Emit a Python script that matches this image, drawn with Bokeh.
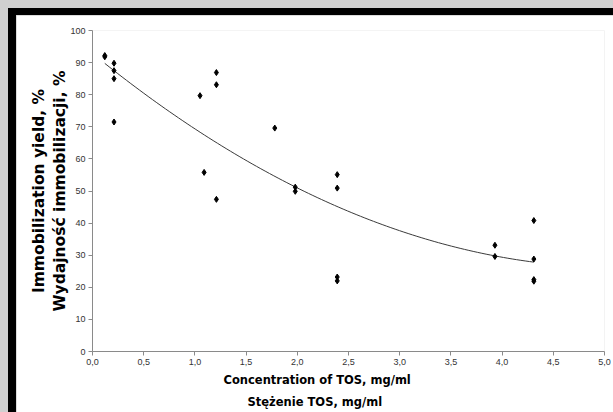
import numpy as np
from bokeh.plotting import figure
from bokeh.models import (ColumnDataSource, FixedTicker, LinearAxis, Div, Title,
                          GlobalInlineStyleSheet)
from bokeh.layouts import row, column
from bokeh.embed import file_html
from bokeh.resources import INLINE

# ---- data ----
tos_conc = [0.12, 0.12, 0.21, 0.21, 0.21, 0.21,
            1.05, 1.09, 1.21, 1.21, 1.21,
            1.78, 1.98, 1.98,
            2.39, 2.39, 2.39, 2.39,
            3.93, 3.93,
            4.31, 4.31, 4.31, 4.31]
immob_yield = [92.2, 91.8, 89.8, 87.5, 85.0, 71.5,
               79.7, 55.8, 86.9, 83.1, 47.4,
               69.6, 51.2, 49.9,
               55.1, 50.9, 23.2, 22.0,
               33.1, 29.6,
               40.8, 28.8, 22.4, 21.9]
x_ticks = [0.0, 0.5, 1.0, 1.5, 2.0, 2.5, 3.0, 3.5, 4.0, 4.5, 5.0]
x_tick_labels = ["0,0", "0,5", "1,0", "1,5", "2,0", "2,5", "3,0", "3,5", "4,0", "4,5", "5,0"]
y_ticks = [0, 10, 20, 30, 40, 50, 60, 70, 80, 90, 100]
x_title_1 = "Concentration of TOS, mg/ml"
x_title_2 = "Stężenie TOS, mg/ml"
y_title_1 = "Immobilization yield, %"
y_title_2 = "Wydajność immobilizacji, %"

# polynomial (order 2) trendline, as in the original chart
coef = np.polyfit(tos_conc, immob_yield, 2)
trend_x = np.linspace(min(tos_conc), max(tos_conc), 100)
trend_y = np.polyval(coef, trend_x)

pts = ColumnDataSource(dict(x=tos_conc, y=immob_yield))
trend = ColumnDataSource(dict(x=trend_x, y=trend_y))

p = figure(width=597, height=397, x_range=(0, 5), y_range=(0, 100),
           output_backend="svg", toolbar_location=None,
           min_border_left=76, min_border_right=9,
           min_border_top=15, min_border_bottom=60)
p.background_fill_color = "white"
p.border_fill_color = "white"
p.outline_line_color = None
p.grid.visible = False

p.line("x", "y", source=trend, line_color="#3a3a3a", line_width=1)
p.scatter("x", "y", source=pts, marker="diamond", size=6,
          fill_color="black", line_color="black")

tick_font = "Liberation Sans"
title_font = "DejaVu Sans"
y_title_size = "15.5px"
x_title_size = "11.5px"

for ax in (p.xaxis[0], p.yaxis[0]):
    ax.axis_line_color = "#8a8a8a"
    ax.major_tick_line_color = "#8a8a8a"
    ax.minor_tick_line_color = None
    ax.major_tick_out = 4
    ax.major_tick_in = 0
    ax.major_label_standoff = 3
    ax.major_label_text_font = tick_font
    ax.major_label_text_font_size = "9px"
    ax.major_label_text_color = "#333333"

p.xaxis[0].ticker = FixedTicker(ticks=x_ticks)
p.xaxis[0].major_label_overrides = {t: l for t, l in zip(x_ticks, x_tick_labels)}
p.yaxis[0].ticker = FixedTicker(ticks=y_ticks)

# inner y title on the primary axis
p.yaxis[0].axis_label = y_title_2
p.yaxis[0].axis_label_standoff = -2
p.yaxis[0].axis_label_text_font = title_font
p.yaxis[0].axis_label_text_font_size = y_title_size
p.yaxis[0].axis_label_text_font_style = "bold"
p.yaxis[0].axis_label_text_color = "black"

# outer y title on an extra, tick-less axis
p.add_layout(LinearAxis(ticker=FixedTicker(ticks=[]),
                        axis_label=y_title_1, axis_label_standoff=1,
                        axis_label_text_font=title_font,
                        axis_label_text_font_size=y_title_size,
                        axis_label_text_font_style="bold",
                        axis_label_text_color="black",
                        axis_line_color=None, major_tick_line_color=None,
                        minor_tick_line_color=None, major_tick_out=0,
                        major_tick_in=0, minor_tick_out=0, minor_tick_in=0,
                        major_label_standoff=0), "left")

# x titles
for txt, off, so in ((x_title_1, 131, 6), (x_title_2, 155, 7)):
    p.add_layout(Title(text=txt, align="left", offset=off, standoff=so,
                       text_font=title_font, text_font_size=x_title_size,
                       text_font_style="bold", text_color="black"), "below")

left_bar = Div(text="", width=8, height=404, margin=0,
               styles={"background-color": "black"})
top_bar = Div(text="", width=597, height=7, margin=0,
              styles={"background-color": "black"})
root = row(left_bar, column(top_bar, p, spacing=0), spacing=0)
root.stylesheets = [GlobalInlineStyleSheet(
    css="html, body { background-color: #d0d0d0; overflow: hidden; } "
        "body { margin: 8px 0 0 8px !important; }")]

open("out.html", "w").write(file_html(root, INLINE))
